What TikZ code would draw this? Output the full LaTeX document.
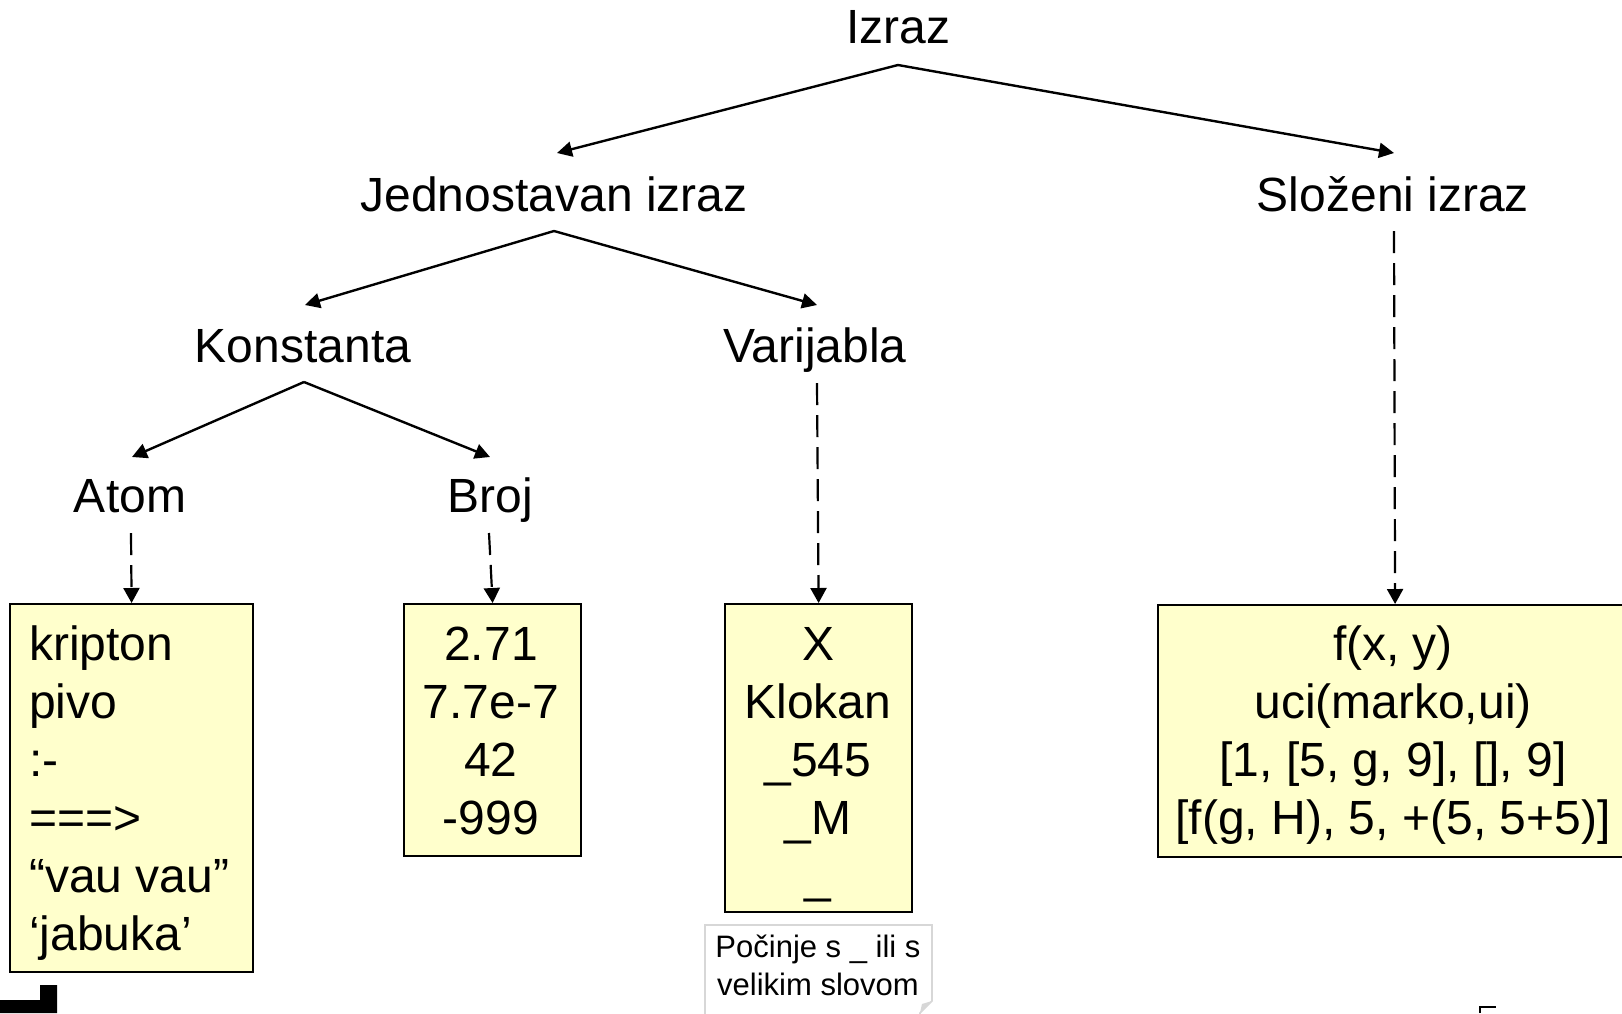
\documentclass[tikz,border=0pt]{standalone}
\usepackage{fontspec}
\setmainfont{Liberation Sans}
\usetikzlibrary{arrows.meta}
\definecolor{boxyellow}{RGB}{255,255,204}
\definecolor{notegray}{RGB}{215,215,215}
\begin{document}
\begin{tikzpicture}[x=1pt,y=-1pt,
  lbl/.style={font=\fontsize{48}{58}\selectfont, inner sep=0pt, anchor=base},
  boxtxt/.style={font=\fontsize{48}{58}\selectfont, inner sep=0pt, anchor=base},
  valbox/.style={draw=black, line width=2.2pt, fill=boxyellow, anchor=north west, inner sep=0pt},
  arr/.style={line width=2.4pt, -{Triangle[length=15pt,width=15pt]}},
  darr/.style={line width=2.2pt, dash pattern=on 22pt off 10pt, -{Triangle[length=15pt,width=16pt]}},
  notetxt/.style={font=\fontsize{31}{38}\selectfont, inner sep=0pt, anchor=base, align=center}
]
\useasboundingbox (0,0) rectangle (1622,1013);

% labels
\node[lbl] (izraz) at (898,43) {Izraz};
\node[lbl] (jedn) at (554,211) {Jednostavan izraz};
\node[lbl] (slozeni) at (1393,211) {Složeni izraz};
\node[lbl] (konst) at (303,362) {Konstanta};
\node[lbl] (varij) at (815,362) {Varijabla};
\node[lbl] (atom) at (130,512) {Atom};
\node[lbl] (broj) at (490,512) {Broj};

% value boxes
\node[valbox, minimum width=243pt, minimum height=368pt] (atombox) at (9,603) {};
\node[valbox, minimum width=177pt, minimum height=252pt] (brojbox) at (403,603) {};
\node[valbox, minimum width=187pt, minimum height=308pt] (varbox) at (724,603) {};
\node[valbox, minimum width=474pt, minimum height=252pt] (slozbox) at (1157,604) {};

% multi-line texts: anchor at baseline of the last line
\node[boxtxt, anchor=base west, align=left] (atomtxt) at (29,950)
  {kripton\\pivo\\:-\\===>\\“vau vau”\\‘jabuka’};
\node[boxtxt, align=center] (brojtxt) at (491,834)
  {2.71\\7.7e-7\\42\\-999};
\node[boxtxt, align=center] (vartxt) at (818,892)
  {X\\Klokan\\\_545\\\_M\\\_};
\node[boxtxt, align=center] (sloztxt) at (1393,834)
  {f(x, y)\\uci(marko,ui)\\{}[1, [5, g, 9], [], 9]\\{}[f(g, H), 5, +(5, 5+5)]};

% vertices and arrow tips
\coordinate (v1) at (898,65);
\coordinate (t-jedn) at (557,153);
\coordinate (t-sloz) at (1394,153);
\coordinate (v2) at (554,231);
\coordinate (t-konst) at (305,305);
\coordinate (t-varij) at (817,305);
\coordinate (v3) at (304,382);
\coordinate (t-atom) at (132,457);
\coordinate (t-broj) at (490,457);

\draw[arr] (v1) -- (t-jedn);
\draw[arr] (v1) -- (t-sloz);
\draw[arr] (v2) -- (t-konst);
\draw[arr] (v2) -- (t-varij);
\draw[arr] (v3) -- (t-atom);
\draw[arr] (v3) -- (t-broj);

% dashed arrows
\coordinate (d-atom) at (131,533);
\coordinate (d-broj) at (489,533);
\coordinate (d-varij) at (817,383);
\coordinate (d-sloz) at (1394,231);
\draw[darr] (d-atom) -- (atombox.north);
\draw[darr] (d-broj) -- (brojbox.north);
\draw[darr] (d-varij) -- (varbox.north);
\draw[darr] (d-sloz) -- (slozbox.north);

% callout note
\draw[notegray, line width=1.6pt, fill=white] (705,925) -- (932,925) -- (932,1001) -- (920,1013) -- (920,1030) -- (705,1030) -- cycle;
\fill[notegray] (932,1001) -- (922,1004) -- (920,1013) -- cycle;
\node[notetxt] (note) at (818,995) {Počinje s \_ ili s\\velikim slovom};

% slide fragments at bottom edge
\fill[black] (0,1000) -- (40,1000) -- (40,985) -- (57,985) -- (57,1013) -- (0,1013) -- cycle;
\draw[black, line width=2pt] (1480,1013) -- (1480,1007) -- (1496,1007);
\end{tikzpicture}
\end{document}
